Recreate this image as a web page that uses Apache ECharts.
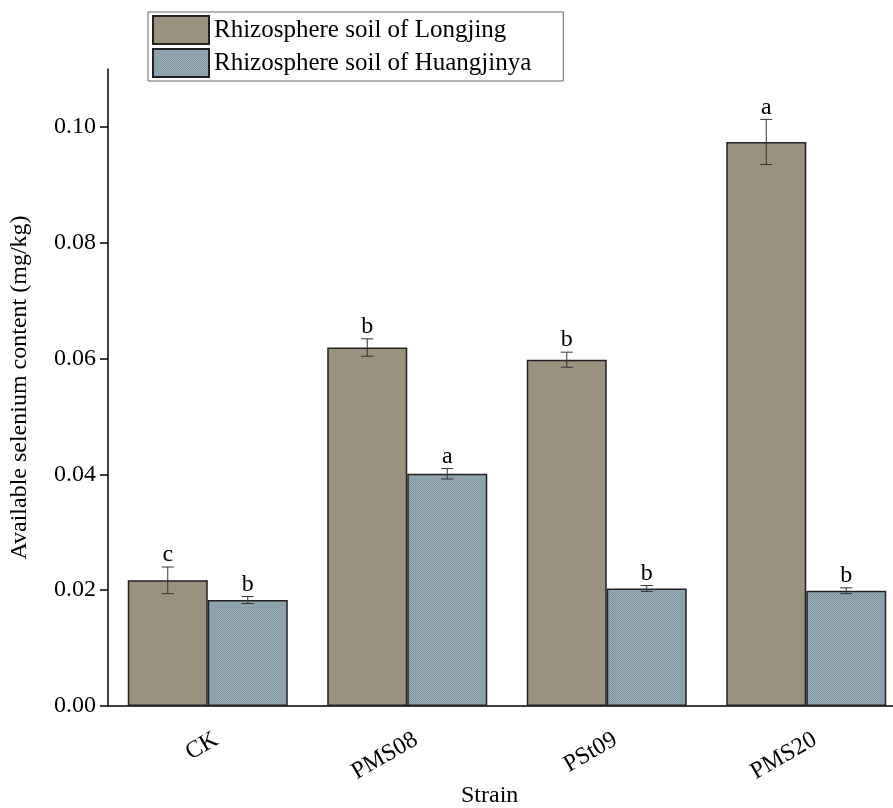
<!DOCTYPE html>
<html>
<head>
<meta charset="utf-8">
<script src="https://cdn.jsdelivr.net/npm/echarts@6/dist/echarts.min.js"></script>
<style>
  html, body { margin: 0; padding: 0; background: #fff; overflow: hidden; }
  #chart { width: 920px; height: 808px; }
</style>
</head>
<body>
<div id="chart"></div>
<script>
// Available selenium content by strain, two rhizosphere soils
const strains = ['CK', 'PMS08', 'PSt09', 'PMS20'];
const seriesNames = ['Rhizosphere soil of Longjing', 'Rhizosphere soil of Huangjinya'];

const longjingMean = [0.0217, 0.0619, 0.0598, 0.0974];
const longjingErr  = [0.0023, 0.0015, 0.0013, 0.0039];
const longjingSig  = ['c', 'b', 'b', 'a'];

const huangjinyaMean = [0.0183, 0.0401, 0.0203, 0.0199];
const huangjinyaErr  = [0.0006, 0.0009, 0.0005, 0.0005];
const huangjinyaSig  = ['b', 'a', 'b', 'b'];

const yTicks = [0, 0.02, 0.04, 0.06, 0.08, 0.10];

const FONT = '"Liberation Serif", "Times New Roman", serif';
const BAR_W = 80;

// fine dotted fill texture
function dotPattern(c1, c2) {
  const cv = document.createElement('canvas');
  cv.width = 2; cv.height = 2;
  const ctx = cv.getContext('2d');
  ctx.fillStyle = c1; ctx.fillRect(0, 0, 2, 2);
  ctx.fillStyle = c2; ctx.fillRect(0, 0, 1, 1); ctx.fillRect(1, 1, 1, 1);
  return { image: cv, repeat: 'repeat' };
}
const fillLongjing = dotPattern('#a39a88', '#928876');
const fillHuangjinya = dotPattern('#97acb6', '#8299a4');

function errorSeries(means, errs, sigs, side) {
  return {
    type: 'custom',
    z: 5,
    data: means.map((m, i) => [i, m, errs[i], sigs[i]]),
    renderItem: function (params, api) {
      const i = api.value(0), m = api.value(1), e = api.value(2);
      const c = api.coord([i, m]);
      const x = c[0] + side * BAR_W / 2;
      const yHi = api.coord([i, m + e])[1];
      const yLo = api.coord([i, m - e])[1];
      const cap = 6;
      const ls = { stroke: '#333', lineWidth: 1 };
      return {
        type: 'group',
        children: [
          { type: 'line', shape: { x1: x, y1: yHi, x2: x, y2: yLo }, style: ls },
          { type: 'line', shape: { x1: x - cap, y1: yHi, x2: x + cap, y2: yHi }, style: ls },
          { type: 'line', shape: { x1: x - cap, y1: yLo, x2: x + cap, y2: yLo }, style: ls },
          { type: 'text', x: x, y: yHi,
            style: { text: sigs[params.dataIndex], fill: '#000', font: '24px ' + FONT,
                     align: 'center', verticalAlign: 'bottom' } }
        ]
      };
    }
  };
}

const chart = echarts.init(document.getElementById('chart'));
chart.setOption({
  animation: false,
  backgroundColor: '#fff',
  grid: { left: 108, top: 69, right: 14, height: 637 },
  legend: {
    data: seriesNames,
    orient: 'vertical',
    left: 148, top: 12,
    itemWidth: 56, itemHeight: 28, itemGap: 3,
    padding: [3, 32, 3, 4],
    borderColor: '#666', borderWidth: 1,
    icon: 'rect',
    textStyle: { fontFamily: FONT, fontSize: 25, color: '#000' }
  },
  xAxis: {
    type: 'category',
    data: strains,
    axisLine: { lineStyle: { color: '#000', width: 1.5 } },
    axisTick: { show: false },
    axisLabel: { rotate: 30, fontFamily: FONT, fontSize: 24, color: '#000', margin: 37,
                 padding: [0, -10, 0, 0] }
  },
  yAxis: {
    type: 'value',
    min: 0, max: 0.11, interval: 0.02,
    name: 'Available selenium content (mg/kg)',
    nameLocation: 'middle', nameGap: 76,
    nameTextStyle: { fontFamily: FONT, fontSize: 24, color: '#000' },
    axisLine: { show: true, lineStyle: { color: '#000', width: 1.5 } },
    axisTick: { show: true, inside: false, length: 8, customValues: yTicks,
                lineStyle: { color: '#000', width: 1.5 } },
    axisLabel: { customValues: yTicks, fontFamily: FONT, fontSize: 24, color: '#000', margin: 12,
                 formatter: v => v.toFixed(2) },
    splitLine: { show: false }
  },
  graphic: [{
    type: 'text', left: 461, top: 784,
    style: { text: 'Strain', font: '24px ' + FONT, fill: '#000' }
  }],
  series: [
    { name: seriesNames[0], type: 'bar', data: longjingMean, barWidth: BAR_W, barGap: '0%',
      itemStyle: { color: fillLongjing, borderColor: '#222', borderWidth: 1.5 } },
    { name: seriesNames[1], type: 'bar', data: huangjinyaMean, barWidth: BAR_W, barGap: '0%',
      itemStyle: { color: fillHuangjinya, borderColor: '#222', borderWidth: 1.5 } },
    errorSeries(longjingMean, longjingErr, longjingSig, -1),
    errorSeries(huangjinyaMean, huangjinyaErr, huangjinyaSig, 1)
  ]
});
</script>
</body>
</html>
